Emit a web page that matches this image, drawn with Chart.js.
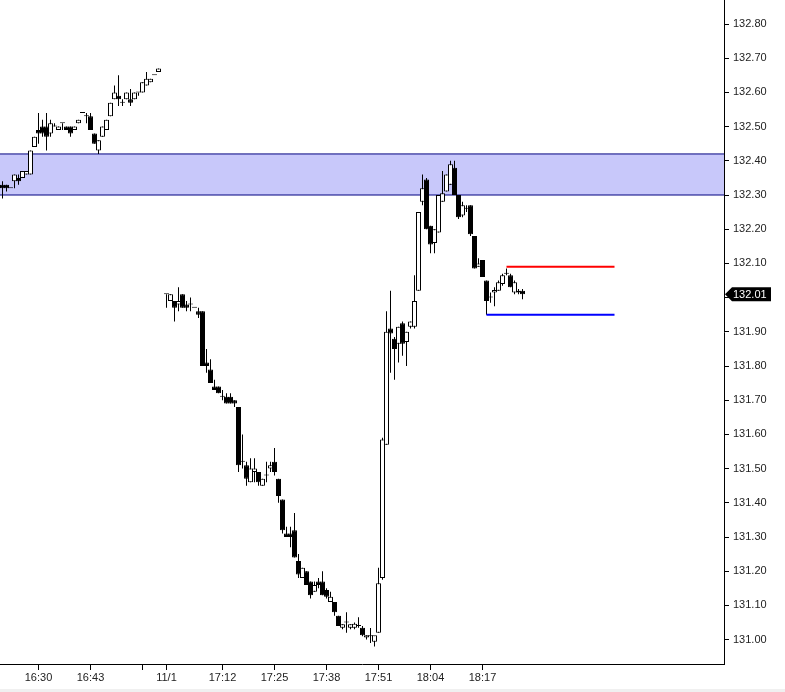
<!DOCTYPE html>
<html><head><meta charset="utf-8">
<script src="https://cdn.jsdelivr.net/npm/chart.js@4"></script>
<style>
html,body{margin:0;padding:0;background:#f0f0f0;overflow:hidden}
#wrap{width:785px;height:689px;background:#fff;position:relative}
canvas{display:block}
</style></head><body><div id="wrap"><canvas id="c" width="785" height="689"></canvas></div>
<script>
// One entry per 1-minute bar; null = no bar in that slot
const opens = [132.33,132.33,132.32,132.34,132.35,132.35,132.36,132.36,132.44,132.49,
132.50,132.50,132.48,132.50,132.49,132.51,132.50,132.50,132.49,132.51,
132.54,132.53,132.53,132.48,132.43,132.47,132.49,132.53,132.58,132.59,
132.57,132.58,132.58,132.58,132.60,132.60,132.62,132.63,132.65,132.66,
null,132.01,131.99,131.99,131.98,132.01,131.98,131.98,131.97,131.96,
131.96,131.81,131.79,131.74,131.74,131.71,131.71,131.71,131.70,131.68,
131.52,131.51,131.46,131.49,131.49,131.45,131.48,131.50,131.52,131.47,
131.41,131.31,131.31,131.32,131.23,131.18,131.20,131.17,131.14,131.17,
131.17,131.145,131.11,131.11,131.07,131.035,131.05,131.035,131.035,131.04,
131.035,131.006,131.01,130.994,131.02,131.18,131.57,131.91,131.88,131.865,
131.925,131.87,131.915,131.915,132.02,132.28,132.345,132.21,132.16,132.19,
132.28,132.31,132.33,132.38,132.30,132.24,132.26,132.27,132.18,132.09,
132.11,132.05,132.00,132.015,132.02,132.04,132.07,132.065,132.015,132.015,
132.02];
const highs = [132.34,132.33,132.32,132.36,132.36,132.37,132.37,132.43,132.47,132.54,
132.52,132.54,132.52,132.51,132.50,132.51,132.50,132.50,132.50,132.52,
132.54,132.54,132.54,132.48,132.46,132.50,132.52,132.57,132.62,132.65,
132.58,132.60,132.61,132.60,132.60,132.63,132.66,132.64,132.65,132.67,
null,132.01,132.01,131.99,132.03,132.01,131.99,132.00,131.97,131.97,
131.96,131.85,131.82,131.76,131.74,131.73,131.72,131.72,131.70,131.68,
131.60,131.52,131.53,131.53,131.49,131.47,131.52,131.52,131.56,131.47,
131.41,131.33,131.33,131.37,131.25,131.21,131.20,131.17,131.17,131.18,
131.20,131.15,131.14,131.11,131.07,131.045,131.08,131.045,131.05,131.065,
131.04,131.013,131.034,131.01,131.21,131.59,131.96,132.02,131.885,131.915,
131.93,131.90,131.93,132.065,132.25,132.36,132.35,132.21,132.20,132.30,
132.37,132.36,132.40,132.40,132.30,132.28,132.27,132.27,132.18,132.115,
132.11,132.05,132.015,132.03,132.05,132.07,132.085,132.07,132.05,132.025,
132.025];
const lows = [132.29,132.31,132.32,132.32,132.33,132.35,132.36,132.36,132.44,132.45,
132.47,132.43,132.47,132.50,132.49,132.49,132.49,132.47,132.49,132.51,
132.54,132.51,132.49,132.45,132.42,132.47,132.49,132.53,132.58,132.56,
132.56,132.58,132.56,132.58,132.59,132.60,132.62,132.63,132.65,132.66,
null,131.97,131.99,131.93,131.96,131.97,131.96,131.96,131.97,131.94,
131.80,131.78,131.75,131.73,131.72,131.70,131.69,131.69,131.68,131.49,
131.50,131.45,131.46,131.46,131.45,131.45,131.46,131.49,131.48,131.40,
131.31,131.30,131.27,131.24,131.18,131.18,131.16,131.12,131.14,131.15,
131.13,131.12,131.11,131.07,131.04,131.03,131.02,131.03,131.03,131.035,
131.01,131.00,130.99,130.98,131.02,131.175,131.57,131.78,131.76,131.81,
131.83,131.80,131.91,131.91,132.02,132.27,132.20,132.13,132.13,132.19,
132.28,132.31,132.33,132.30,132.23,132.235,132.25,132.18,132.085,132.09,
132.06,131.95,131.985,131.975,132.02,132.035,132.065,132.03,132.01,132.01,
131.995];
const closes = [132.32,132.32,132.32,132.36,132.34,132.37,132.37,132.43,132.47,132.48,
132.48,132.47,132.51,132.50,132.50,132.51,132.49,132.48,132.50,132.52,
132.54,132.53,132.49,132.45,132.46,132.50,132.52,132.57,132.60,132.58,
132.57,132.60,132.57,132.60,132.60,132.63,132.64,132.64,132.65,132.67,
null,132.01,132.01,131.97,131.99,131.97,131.97,131.98,131.97,131.95,
131.80,131.80,131.75,131.73,131.72,131.71,131.69,131.69,131.69,131.51,
131.52,131.47,131.50,131.50,131.46,131.47,131.48,131.51,131.49,131.42,
131.32,131.30,131.30,131.24,131.19,131.21,131.16,131.13,131.16,131.16,
131.13,131.125,131.125,131.08,131.04,131.045,131.05,131.045,131.046,131.04,
131.013,131.013,131.01,131.013,131.165,131.585,131.90,131.895,131.85,131.915,
131.865,131.90,131.93,131.99,132.25,132.32,132.20,132.155,132.20,132.30,
132.305,132.36,132.39,132.30,132.235,132.27,132.26,132.185,132.085,132.10,
132.06,131.99,132.00,132.022,132.045,132.065,132.07,132.03,132.045,132.02,
132.01];

const xTickIndex  = [9, 22, 35, 41, 55, 68, 81, 94, 107, 120];
const xTickLabels = ['16:30','16:43','','11/1','17:12','17:25','17:38','17:51','18:04','18:17'];
const yTickLabels = ['131.00','131.10','131.20','131.30','131.40','131.50','131.60','131.70','131.80','131.90',
                     '132.00','132.10','132.20','132.30','132.40','132.50','132.60','132.70','132.80'];
const zoneBounds = [132.30, 132.42];   // shaded zone: low, high
const resistanceLevel = [132.09];      // red level
const supportLevel = [131.95];         // blue level
const levelStartIndex = [126, 121];    // red, blue start bars
const levelEndIndex = 153;

const wickData = [], bodyData = [], bodyFill = [];
for (let i = 0; i < opens.length; i++) {
  if (opens[i] == null) continue;
  wickData.push({x: i, y: [lows[i], highs[i]]});
  bodyData.push({x: i, y: [opens[i], closes[i]]});
  bodyFill.push(closes[i] >= opens[i] ? '#ffffff' : '#000000');
}
let lastIdx = closes.length - 1;
while (closes[lastIdx] == null) lastIdx--;
const lastPrice = closes[lastIdx];

Chart.defaults.font.family = '"Liberation Sans", Arial, sans-serif';
Chart.defaults.font.size = 11;
Chart.defaults.color = '#222';

const priceTag = {
  id: 'priceTag',
  afterDraw(chart) {
    const y = chart.scales.y.getPixelForValue(lastPrice);
    const x0 = chart.chartArea.right;
    const c = chart.ctx;
    c.save();
    c.fillStyle = '#000';
    c.beginPath();
    c.moveTo(x0 + 1, y);
    c.lineTo(x0 + 8, y - 7);
    c.lineTo(x0 + 47, y - 7);
    c.lineTo(x0 + 47, y + 7);
    c.lineTo(x0 + 8, y + 7);
    c.closePath();
    c.fill();
    c.fillStyle = '#fff';
    c.font = '11px "Liberation Sans", Arial, sans-serif';
    c.textBaseline = 'middle';
    c.textAlign = 'left';
    c.fillText(lastPrice.toFixed(2), x0 + 9, y + 0.5);
    c.restore();
  }
};

new Chart(document.getElementById('c'), {
  data: {
    datasets: [
      { type: 'line', data: [{x: -2, y: zoneBounds[1]}, {x: 182, y: zoneBounds[1]}],
        borderColor: '#000080', borderWidth: 1, pointRadius: 0, fill: false, order: 10 },
      { type: 'line', data: [{x: -2, y: zoneBounds[0]}, {x: 182, y: zoneBounds[0]}],
        borderColor: '#000080', borderWidth: 1, pointRadius: 0, fill: '-1',
        backgroundColor: '#c8c8fa', order: 10 },
      { type: 'bar', data: wickData, backgroundColor: '#000', barThickness: 1,
        grouped: false, inflateAmount: 0, borderWidth: 0, order: 5 },
      { type: 'bar', data: bodyData, backgroundColor: bodyFill, borderColor: '#000',
        borderWidth: 1, borderSkipped: false, barThickness: 5, minBarLength: 1,
        grouped: false, inflateAmount: 0, order: 4 },
      { type: 'line', data: [{x: levelStartIndex[0], y: resistanceLevel[0]}, {x: levelEndIndex, y: resistanceLevel[0]}],
        borderColor: '#ff0000', borderWidth: 2, pointRadius: 0, fill: false, order: 1 },
      { type: 'line', data: [{x: levelStartIndex[1], y: supportLevel[0]}, {x: levelEndIndex, y: supportLevel[0]}],
        borderColor: '#0000ff', borderWidth: 2, pointRadius: 0, fill: false, order: 1 }
    ]
  },
  options: {
    responsive: false,
    animation: false,
    devicePixelRatio: 1,
    layout: { padding: 0 },
    plugins: { legend: { display: false }, tooltip: { enabled: false } },
    scales: {
      x: {
        type: 'linear', position: 'bottom',
        min: -0.625, max: 180.375, offset: false,
        grid: { display: true, drawOnChartArea: false, drawTicks: true, tickLength: 6, color: '#000', offset: false },
        border: { display: true, color: '#000', width: 1 },
        afterBuildTicks: s => { s.ticks = xTickIndex.map(v => ({value: v})); },
        afterFit: s => { s.height = 25; s.paddingLeft = 0; s.paddingRight = 0; },
        ticks: {
          autoSkip: false, maxRotation: 0, padding: 1, color: '#222',
          callback: (v) => { const k = xTickIndex.indexOf(v); return k >= 0 ? xTickLabels[k] : ''; }
        }
      },
      y: {
        type: 'linear', position: 'right',
        min: 132.80 - 640 / 342, max: 132.80 + 24 / 342,
        grid: { display: true, drawOnChartArea: false, drawTicks: true, tickLength: 5, color: '#000' },
        border: { display: true, color: '#000', width: 1 },
        afterBuildTicks: s => { s.ticks = yTickLabels.map(t => ({value: parseFloat(t)})); },
        afterFit: s => { s.width = 61; s.paddingTop = 0; s.paddingBottom = 0; },
        ticks: {
          padding: 4, color: '#222',
          callback: (v) => { const k = yTickLabels.findIndex(t => Math.abs(parseFloat(t) - v) < 1e-6); return k >= 0 ? yTickLabels[k] : ''; }
        }
      }
    }
  },
  plugins: [priceTag]
});
</script></body></html>
